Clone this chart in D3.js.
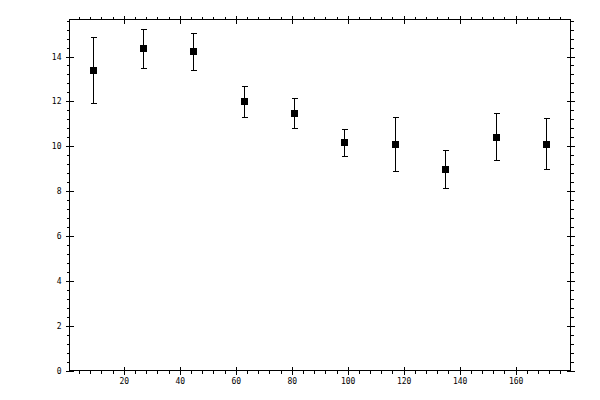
<!DOCTYPE html>
<html>
<head>
<meta charset="utf-8">
<title>Error bars</title>
<script src="https://d3js.org/d3.v7.min.js"></script>
<style>
body { margin: 0; background: #fff; }
svg { display: block; }
.axis text { font-family: "DejaVu Sans Mono", monospace; font-size: 8px; fill: #000; }
.axis path, .axis line { stroke: #000; shape-rendering: crispEdges; }
</style>
</head>
<body>
<script type="text/javascript">

var width = 600,
    height = 400;

var xValues = [9, 27, 45, 63, 81, 99, 117, 135, 153, 171];
var yValues = [13.36, 14.34, 14.21, 11.98, 11.44, 10.15, 10.06, 8.95, 10.37, 10.06];
var yLow    = [11.89, 13.45, 13.36, 11.27, 10.78, 9.53, 8.86, 8.10, 9.35, 8.95];
var yHigh   = [14.83, 15.22, 15.04, 12.68, 12.14, 10.73, 11.27, 9.80, 11.44, 11.22];

var xMajor = [20, 40, 60, 80, 100, 120, 140, 160];
var yMajor = [0, 2, 4, 6, 8, 10, 12, 14];

var x = d3.scaleLinear().domain([0.6, 179.6]).range([69, 570]);
var y = d3.scaleLinear().domain([0, 15.65]).range([370, 19]);

var xMinor = d3.range(4, 179, 4).filter(function(v) { return v % 20 !== 0; });
var yMinor = d3.range(1, 40).map(function(i) { return +(i * 0.4).toFixed(1); })
    .filter(function(v) { return v < 15.65 && Math.abs(v / 2 - Math.round(v / 2)) > 1e-6; });

var svg = d3.select("body").append("svg")
    .attr("width", width)
    .attr("height", height);

var g = svg.append("g").attr("transform", "translate(0.5,0.5)");

var fmt = d3.format("d");

// frame
g.append("rect")
    .attr("x", x.range()[0])
    .attr("y", y.range()[1])
    .attr("width", x.range()[1] - x.range()[0])
    .attr("height", y.range()[0] - y.range()[1])
    .style("fill", "none")
    .style("stroke", "#000")
    .style("shape-rendering", "crispEdges");

function addAxis(axis, tx, ty) {
  var a = g.append("g").attr("class", "axis")
      .attr("transform", "translate(" + tx + "," + ty + ")")
      .call(axis);
  a.select(".domain").remove();
  return a;
}

// bottom
addAxis(d3.axisBottom(x).tickValues(xMajor).tickFormat(fmt).tickSize(4).tickPadding(4), 0, 370);
addAxis(d3.axisBottom(x).tickValues(xMajor).tickFormat("").tickSize(-4), 0, 370);
addAxis(d3.axisBottom(x).tickValues(xMinor).tickFormat("").tickSize(3), 0, 370);
// top
addAxis(d3.axisTop(x).tickValues(xMajor).tickFormat("").tickSize(4), 0, 19);
addAxis(d3.axisTop(x).tickValues(xMajor).tickFormat("").tickSize(-4), 0, 19);
addAxis(d3.axisTop(x).tickValues(xMinor).tickFormat("").tickSize(3), 0, 19);
// left
addAxis(d3.axisLeft(y).tickValues(yMajor).tickFormat(fmt).tickSize(4).tickPadding(4), 69, 0);
addAxis(d3.axisLeft(y).tickValues(yMajor).tickFormat("").tickSize(-4), 69, 0);
addAxis(d3.axisLeft(y).tickValues(yMinor).tickFormat("").tickSize(3), 69, 0);
// right
addAxis(d3.axisRight(y).tickValues(yMajor).tickFormat("").tickSize(4), 570, 0);
addAxis(d3.axisRight(y).tickValues(yMajor).tickFormat("").tickSize(-4), 570, 0);
addAxis(d3.axisRight(y).tickValues(yMinor).tickFormat("").tickSize(3), 570, 0);

// error bars
var pts = xValues.map(function(v, i) {
  return { x: v, y: yValues[i], lo: yLow[i], hi: yHigh[i] };
});

var eb = g.append("g").attr("class", "errorbars")
    .style("stroke", "#000")
    .style("shape-rendering", "crispEdges");

eb.selectAll("line.bar").data(pts).enter().append("line")
    .attr("class", "bar")
    .attr("x1", function(d) { return Math.round(x(d.x)); })
    .attr("x2", function(d) { return Math.round(x(d.x)); })
    .attr("y1", function(d) { return Math.round(y(d.lo)); })
    .attr("y2", function(d) { return Math.round(y(d.hi)); });

eb.selectAll("line.caplo").data(pts).enter().append("line")
    .attr("class", "caplo")
    .attr("x1", function(d) { return Math.round(x(d.x)) - 3; })
    .attr("x2", function(d) { return Math.round(x(d.x)) + 3; })
    .attr("y1", function(d) { return Math.round(y(d.lo)); })
    .attr("y2", function(d) { return Math.round(y(d.lo)); });

eb.selectAll("line.caphi").data(pts).enter().append("line")
    .attr("class", "caphi")
    .attr("x1", function(d) { return Math.round(x(d.x)) - 3; })
    .attr("x2", function(d) { return Math.round(x(d.x)) + 3; })
    .attr("y1", function(d) { return Math.round(y(d.hi)); })
    .attr("y2", function(d) { return Math.round(y(d.hi)); });

// square markers, 7px centred on the bar
svg.append("g").selectAll("rect").data(pts).enter().append("rect")
    .attr("x", function(d) { return Math.round(x(d.x)) - 3; })
    .attr("y", function(d) { return Math.round(y(d.y)) - 3; })
    .attr("width", 7)
    .attr("height", 7)
    .style("fill", "#000")
    .style("shape-rendering", "crispEdges");

</script>
</body>
</html>
